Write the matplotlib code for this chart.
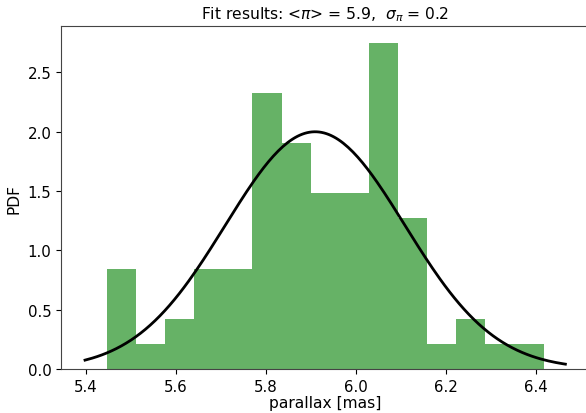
import numpy as np
from matplotlib import pyplot as plt

# Histogram of parallaxes (counts per bin), 15 equal bins
counts = [4, 1, 2, 4, 4, 11, 9, 7, 7, 13, 6, 1, 2, 1, 1]
bin_lo = 5.446
bin_hi = 6.417

# Gaussian fit
mu = 5.909
sigma = 0.1995

edges = np.linspace(bin_lo, bin_hi, len(counts) + 1)
centers = 0.5 * (edges[:-1] + edges[1:])

fig = plt.figure(figsize=(5.86, 4.14), dpi=100)
ax = fig.add_axes([0.1041, 0.1063, 0.9017, 0.8277])

ax.hist(centers, bins=edges, weights=counts, density=True, color='g', alpha=0.6)

# pdf over the current x range
xmin, xmax = ax.get_xlim()
x = np.linspace(xmin, xmax, 200)
p = np.exp(-0.5 * ((x - mu) / sigma) ** 2) / (sigma * np.sqrt(2 * np.pi))
ax.plot(x, p, 'k', linewidth=2)

ax.set_title(r"Fit results: <$\pi$> = %.1f,  $\sigma_\pi$ = %.1f" % (mu, sigma), fontsize=11.2)
ax.set_xlabel("parallax [mas]", fontsize=11.2, labelpad=1)
ax.set_ylabel("PDF", fontsize=11.2)
ax.tick_params(labelsize=10.8)
for s in ax.spines.values():
    s.set_color('#444444')

plt.savefig("out.png", dpi=100)
